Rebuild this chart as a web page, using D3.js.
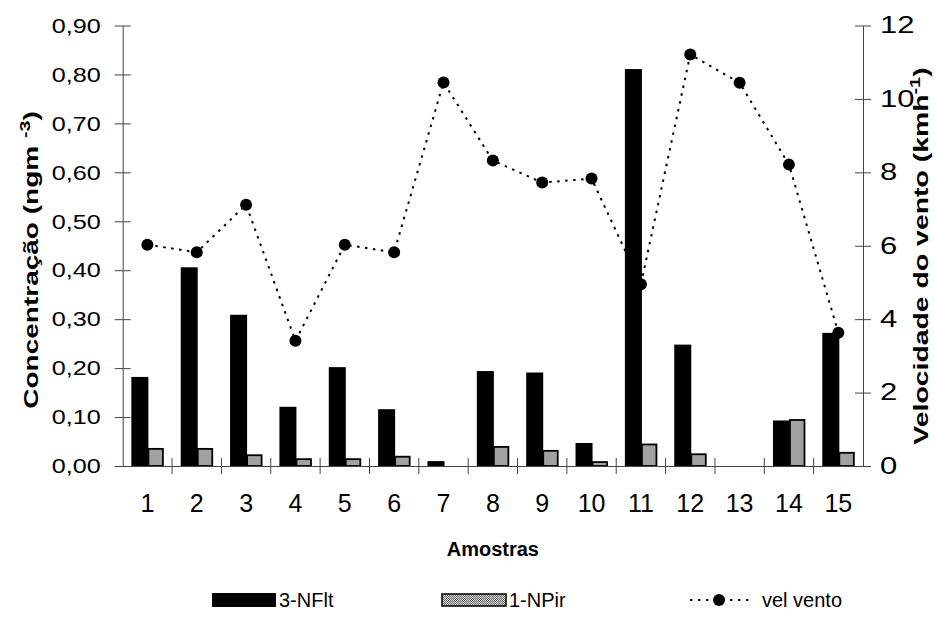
<!DOCTYPE html>
<html>
<head>
<meta charset="utf-8">
<script src="https://cdn.jsdelivr.net/npm/d3@7"></script>
<style>
  body { margin: 0; background: #fff; }
  text { font-family: "Liberation Sans", Arial, sans-serif; fill: #000; }
</style>
</head>
<body>
<div class="chart"></div>
<script>
var amostras = ['1', '2', '3', '4', '5', '6', '7', '8', '9', '10', '11', '12', '13', '14', '15']
var nflt = [0.182, 0.406, 0.309, 0.121, 0.202, 0.116, 0.010, 0.194, 0.191, 0.047, 0.811, 0.248, 0, 0.093, 0.272]
var npir = [0.035, 0.035, 0.022, 0.014, 0.014, 0.019, 0, 0.039, 0.031, 0.008, 0.044, 0.024, 0, 0.094, 0.027]
var velVento = [6.03, 5.82, 7.12, 3.41, 6.03, 5.82, 10.45, 8.32, 7.72, 7.83, 4.95, 11.21, 10.44, 8.21, 3.63]
var leftTicks = [0, 0.1, 0.2, 0.3, 0.4, 0.5, 0.6, 0.7, 0.8, 0.9]
var rightTicks = [0, 2, 4, 6, 8, 10, 12]
var series = ['3-NFlt', '1-NPir']

var margin = {top: 25.5, right: 72, bottom: 156, left: 122.7},
    width = 935 - margin.left - margin.right,
    height = 622 - margin.top - margin.bottom

var svg = d3.select('.chart').append('svg')
    .attr('width', 935)
    .attr('height', 622)

var defs = svg.append('defs')
var pat = defs.append('pattern')
    .attr('id', 'dots')
    .attr('patternUnits', 'userSpaceOnUse')
    .attr('width', 2)
    .attr('height', 2)
pat.append('rect').attr('width', 2).attr('height', 2).attr('fill', '#dcdcdc')
pat.append('rect').attr('width', 1).attr('height', 1).attr('fill', '#666')
pat.append('rect').attr('x', 1).attr('y', 1).attr('width', 1).attr('height', 1).attr('fill', '#666')

var g = svg.append('g')
    .attr('transform', 'translate(' + margin.left + ',' + margin.top + ')')

var x = d3.scaleBand().domain(amostras).range([0, width]).padding(0)
var xs = d3.scaleBand().domain(series).range([0, x.bandwidth()]).paddingInner(0).paddingOuter(0.54)
var y = d3.scaleLinear().domain([0, 0.9]).range([height, 0])
var y2 = d3.scaleLinear().domain([0, 12]).range([height, 0])

var data = amostras.map(function(a, i) {
  return {a: a, nflt: nflt[i], npir: npir[i], vel: velVento[i]}
})

// barras
g.selectAll('.bar1')
  .data(data)
  .enter().append('rect')
  .attr('x', function(d) { return x(d.a) + xs('3-NFlt') })
  .attr('width', xs.bandwidth() + 1)
  .attr('y', function(d) { return y(d.nflt) })
  .attr('height', function(d) { return height - y(d.nflt) })
  .attr('fill', '#000')

g.selectAll('.bar2')
  .data(data.filter(function(d) { return d.npir > 0 }))
  .enter().append('rect')
  .attr('x', function(d) { return x(d.a) + xs('1-NPir') + 1 })
  .attr('width', xs.bandwidth() - 1.5)
  .attr('y', function(d) { return y(d.npir) })
  .attr('height', function(d) { return height - y(d.npir) })
  .attr('fill', 'url(#dots)')
  .attr('stroke', '#000')
  .attr('stroke-width', 1.8)

// eixos
var fmt = function(d) { return d3.format('.2f')(d).replace('.', ',') }

var axL = g.append('g')
  .call(d3.axisLeft(y).tickValues(leftTicks).tickFormat(fmt).tickSizeInner(8).tickSizeOuter(0))
axL.selectAll('.tick line').attr('x1', 8)
axL.selectAll('.tick text')
  .attr('x', 0)
  .attr('transform', 'translate(-22,0) scale(1.2,1)')
  .style('font-size', '21px')

var axR = g.append('g')
  .attr('transform', 'translate(' + width + ',0)')
  .call(d3.axisRight(y2).tickValues(rightTicks).tickSizeInner(8).tickSizeOuter(0))
axR.selectAll('.tick line').attr('x1', -8)
axR.selectAll('.tick text')
  .attr('x', 0)
  .attr('transform', 'translate(17,0) scale(1.35,1)')
  .style('font-size', '23px')

var axB = g.append('g')
  .attr('transform', 'translate(0,' + height + ')')
  .call(d3.axisBottom(x).tickSizeInner(0).tickSizeOuter(0).tickPadding(28))
axB.selectAll('.tick line').remove()
axB.selectAll('.tick text').style('font-size', '25px')
axB.selectAll('.sep')
  .data(amostras.slice(1))
  .enter().append('line')
  .attr('x1', function(d) { return x(d) })
  .attr('x2', function(d) { return x(d) })
  .attr('y1', -8)
  .attr('y2', 8)
  .attr('stroke', '#444')

svg.selectAll('.domain, .tick line').attr('stroke', '#444')
svg.selectAll('.tick text').style('font-family', '"Liberation Sans", Arial, sans-serif')

// linha do vento
var line = d3.line()
  .x(function(d) { return x(d.a) + x.bandwidth() / 2 })
  .y(function(d) { return y2(d.vel) })

g.append('path')
  .datum(data)
  .attr('d', line)
  .attr('fill', 'none')
  .attr('stroke', '#000')
  .attr('stroke-width', 2)
  .attr('stroke-dasharray', '2.5,5.5')

g.selectAll('.pt')
  .data(data)
  .enter().append('circle')
  .attr('cx', function(d) { return x(d.a) + x.bandwidth() / 2 })
  .attr('cy', function(d) { return y2(d.vel) })
  .attr('r', 6)
  .attr('fill', '#000')

// titulos
var tl = svg.append('text')
  .attr('transform', 'translate(38,260) rotate(-90) scale(1.4,1)')
  .attr('text-anchor', 'middle')
  .style('font-size', '20px')
  .style('font-weight', 'bold')
tl.append('tspan').text('Concentração (ngm ')
tl.append('tspan').attr('dy', -8).style('font-size', '14px').text('-3')
tl.append('tspan').attr('dy', 8).text(')')

var tr = svg.append('text')
  .attr('transform', 'translate(928,256) rotate(-90) scale(1.42,1)')
  .attr('text-anchor', 'middle')
  .style('font-size', '20px')
  .style('font-weight', 'bold')
tr.append('tspan').text('Velocidade do vento (kmh')
tr.append('tspan').attr('dy', -8).style('font-size', '14px').text('-1')
tr.append('tspan').attr('dy', 8).text(')')

svg.append('text')
  .attr('x', margin.left + width / 2)
  .attr('y', 556)
  .attr('text-anchor', 'middle')
  .style('font-size', '20px')
  .style('font-weight', 'bold')
  .text('Amostras')

// legenda
var leg = svg.append('g')
leg.append('rect').attr('x', 212).attr('y', 593).attr('width', 64).attr('height', 14).attr('fill', '#000')
leg.append('text').attr('x', 279).attr('y', 607).style('font-size', '20px').text('3-NFlt')
leg.append('rect').attr('x', 442).attr('y', 594).attr('width', 64).attr('height', 12)
  .attr('fill', 'url(#dots)').attr('stroke', '#000').attr('stroke-width', 1.5)
leg.append('text').attr('x', 509).attr('y', 607).style('font-size', '20px').text('1-NPir')
leg.append('line').attr('x1', 690).attr('x2', 752).attr('y1', 600).attr('y2', 600)
  .attr('stroke', '#000').attr('stroke-width', 2).attr('stroke-dasharray', '2.5,5.5')
leg.append('circle').attr('cx', 719).attr('cy', 600).attr('r', 6).attr('fill', '#000')
leg.append('text').attr('x', 762).attr('y', 607).style('font-size', '20px').text('vel vento')
</script>
</body>
</html>
